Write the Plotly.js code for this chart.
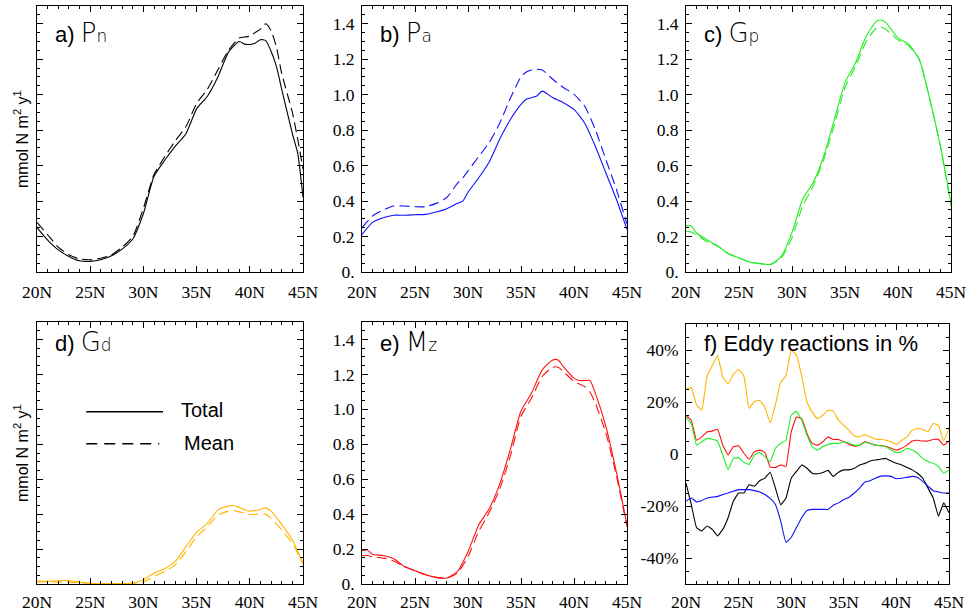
<!DOCTYPE html>
<html><head><meta charset="utf-8">
<script src="https://cdn.plot.ly/plotly-3.0.1.min.js"></script>
<style>html,body{margin:0;padding:0;background:#fff}#chart{width:968px;height:614px}</style>
</head><body><div id="chart"></div>
<script>
// ---- tick labels ----
const latTickVals = [20, 25, 30, 35, 40, 45];
const latTickText = ['20N', '25N', '30N', '35N', '40N', '45N'];
const fluxTickVals = [0, 0.2, 0.4, 0.6, 0.8, 1.0, 1.2, 1.4];
const fluxTickText = ['0.', '0.2', '0.4', '0.6', '0.8', '1.0', '1.2', '1.4'];
const pctTickVals = [-40, -20, 0, 20, 40];
const pctTickText = ['-40%', '-20%', '0', '20%', '40%'];

// ---- a) Pn ----
const latPn = [20,21,22,23,24,25,26,27,28,29,30,31,32,33,34,35,36,37,38,39,39.5,40,40.5,41,41.5,42,42.5,43,44,44.5,45];
const pnTotal = [0.25,0.18,0.125,0.088,0.063,0.06,0.069,0.091,0.129,0.186,0.33,0.54,0.63,0.71,0.78,0.92,0.99,1.10,1.24,1.30,1.285,1.283,1.29,1.31,1.305,1.245,1.16,1.03,0.78,0.67,0.42];
const pnMean  = [0.28,0.21,0.14,0.097,0.073,0.069,0.078,0.097,0.14,0.20,0.36,0.55,0.65,0.74,0.82,0.95,1.03,1.14,1.25,1.32,1.325,1.33,1.35,1.37,1.40,1.36,1.27,1.12,0.90,0.75,0.58];

// ---- b) Pa ----
const latPa = [20,21,22,23,24,25,26,27,28,29,29.5,30,31,32,33,34,35,35.5,36,36.5,37,38,39,40,41,42,43,44,45];
const paTotal = [0.212,0.28,0.306,0.32,0.32,0.323,0.325,0.338,0.357,0.387,0.40,0.45,0.53,0.62,0.75,0.86,0.945,0.974,0.983,0.993,1.02,0.983,0.955,0.917,0.84,0.71,0.56,0.41,0.24];
const paMean  = [0.25,0.316,0.35,0.372,0.372,0.368,0.368,0.387,0.42,0.50,0.53,0.57,0.65,0.73,0.84,0.98,1.10,1.128,1.139,1.143,1.139,1.087,1.04,1.002,0.936,0.805,0.635,0.466,0.27];

// ---- c) Gp ----
const latGp = [20,20.5,21,22,23,24,25,26,27,28,29,30,31,32,33,34,35,36,37,38,38.5,39,40,41,42,43,44,45];
const gpTotal = [0.26,0.26,0.22,0.18,0.147,0.103,0.08,0.056,0.047,0.043,0.09,0.222,0.41,0.504,0.654,0.861,1.068,1.18,1.33,1.415,1.42,1.397,1.32,1.284,1.2,0.974,0.71,0.39];
const gpMean  = [0.23,0.225,0.21,0.17,0.147,0.103,0.08,0.056,0.047,0.043,0.08,0.194,0.372,0.485,0.635,0.833,1.04,1.16,1.30,1.378,1.38,1.36,1.31,1.275,1.2,0.974,0.71,0.37];

// ---- d) Gd ----
const latGd = [20,21,22,23,24,25,26,27,28,29,30,31,32,33,34,35,36,37,38,38.5,39,40,41,41.5,42,43,44,45];
const gdTotal = [0.019,0.015,0.019,0.019,0.011,0.004,0.002,0.002,0.002,0.006,0.025,0.063,0.087,0.129,0.214,0.296,0.347,0.423,0.446,0.449,0.438,0.417,0.427,0.436,0.417,0.341,0.252,0.119];
const gdMean  = [0.011,0.013,0.011,0.011,0.008,0.004,0.003,0.003,0.003,0.004,0.011,0.044,0.072,0.11,0.186,0.27,0.328,0.394,0.417,0.42,0.413,0.398,0.40,0.40,0.375,0.31,0.233,0.114];

// ---- e) Mz ----
const latMz = [20,20.5,21,22,23,24,25,26,27,28,29,30,31,32,33,34,35,36,37,38,38.5,39,40,40.5,41,41.5,42,43,44,45];
const mzTotal = [0.19,0.195,0.17,0.163,0.144,0.10,0.076,0.053,0.038,0.034,0.072,0.185,0.337,0.431,0.573,0.772,0.99,1.094,1.226,1.283,1.283,1.245,1.179,1.165,1.165,1.165,1.094,0.904,0.64,0.337];
const mzMean  = [0.163,0.163,0.157,0.148,0.132,0.10,0.076,0.053,0.038,0.034,0.062,0.157,0.30,0.409,0.545,0.734,0.96,1.065,1.188,1.241,1.241,1.216,1.16,1.145,1.131,1.10,1.037,0.866,0.62,0.327];

// ---- f) Eddy reactions in % ----
const latF = [20,20.5,21,21.5,22,22.5,23,23.5,24,24.5,25,25.5,26,26.5,27,27.5,28,28.5,29,29.5,30,30.5,31,31.5,32,32.5,33,33.5,34,34.5,35,35.5,36,36.5,37,37.5,38,38.5,39,39.5,40,40.5,41,41.5,42,42.5,43,43.5,44,44.5,45];
const eddyGd = [25,25.6,19,16.8,30,34,38,29.5,27,30.7,32.5,30,17.5,20.2,20.6,18,12,19,27.6,30,40,38,30,20,16.1,13.6,14.9,16.8,16.5,13,11,9.1,6.9,6.6,7.5,6.6,5.7,5.6,5.3,4.7,3.7,5.3,6.6,9.1,9.8,9.5,8.5,11.7,11,5,10];
const eddyMz = [14.9,13,5.3,6.6,8.5,8.8,9.5,3.4,-0.4,2.8,3.2,0.3,-2,0.9,1.5,0.6,-5,-5.2,-4.2,-4.8,8.5,14.2,13.6,7.9,4.1,3.4,4.7,6.6,5.6,5.6,4.7,3.7,3,3.4,4.7,4.1,3.4,3.2,3,2.2,1.5,2.2,3.4,5,5.3,5,5,5.6,5.6,3.4,5];
const eddyGp = [14.2,11.7,3.4,4.7,6,5.7,5,-0.4,-6.1,-1.7,-1.4,-3.2,-4,-0.4,0.6,-1,-3,2.2,4.1,5.3,14.9,16.4,13,7.2,2.8,1.5,2.8,3.7,4.1,4.1,4.7,4.1,3.4,3.4,4.4,4.1,3.4,3.2,2.8,1.5,0.6,0.9,2.2,1.5,0.3,-1.7,-2.9,-3.6,-4.8,-7.4,-6.1];
const eddyPn = [-11.2,-19.4,-28.3,-29.6,-27.7,-29,-31.5,-29,-24.5,-18.2,-15,-15,-11.8,-12.4,-10.3,-9.3,-7,-13.1,-19.5,-17,-9.3,-6.7,-4.2,-5.5,-7.4,-7.6,-7.1,-6.3,-8.6,-7,-6.1,-6.1,-5.5,-4.2,-3.6,-2.7,-2.3,-2,-1.7,-2.7,-3.6,-4.2,-5.2,-6.1,-7.4,-9.3,-13.1,-16.9,-23.9,-18.8,-22.6];
const eddyPa = [-18.2,-16.9,-18.4,-17.9,-16.9,-16.6,-16.3,-15.6,-15,-14.3,-13.7,-13.7,-13.7,-14.1,-14.6,-15.6,-17.1,-19.4,-25.8,-34,-32.1,-28.3,-24.5,-21.7,-21.3,-21.3,-21.3,-21.3,-19.7,-18.8,-17.5,-16.6,-15,-13.1,-10.8,-10.3,-9.3,-8.5,-8.4,-8.6,-9.5,-9.3,-9,-8.6,-9,-10.5,-12.4,-14.1,-14.6,-15,-15];

const legendLabels = ['Total', 'Mean'];
const panelLabels = ['a)', 'b)', 'c)', 'd)', 'e)', 'f)'];
const panelSymbols = [['P','n'], ['P','a'], ['G','p'], ['G','d'], ['M','z']];

// ---- colours ----
const cBlack = '#000000', cBlue = '#1010ff', cGreen = '#22ee22', cOrange = '#ffb400', cRed = '#ff1010';

const DASH = '10px,5px';
function pair(x, tot, mean, col, ax) {
  return [
    {x: x, y: tot, xaxis: 'x' + ax, yaxis: 'y' + ax, mode: 'lines', line: {color: col, width: 1.1, shape: 'spline', smoothing: 0.6}, showlegend: false, hoverinfo: 'skip'},
    {x: x, y: mean, xaxis: 'x' + ax, yaxis: 'y' + ax, mode: 'lines', line: {color: col, width: 1.1, dash: DASH, shape: 'spline', smoothing: 0.6}, showlegend: false, hoverinfo: 'skip'}
  ];
}
const data = [].concat(
  pair(latPn, pnTotal, pnMean, cBlack, ''),
  pair(latPa, paTotal, paMean, cBlue, '2'),
  pair(latGp, gpTotal, gpMean, cGreen, '3'),
  pair(latGd, gdTotal, gdMean, cOrange, '4'),
  pair(latMz, mzTotal, mzMean, cRed, '5')
);
[[eddyGd, cOrange], [eddyMz, cRed], [eddyGp, cGreen], [eddyPn, cBlack], [eddyPa, cBlue]].forEach(function (s) {
  data.push({x: latF, y: s[0], xaxis: 'x6', yaxis: 'y6', mode: 'lines', line: {color: s[1], width: 1.1, shape: 'spline', smoothing: 0.3}, showlegend: false, hoverinfo: 'skip'});
});

// ---- layout ----
const W = 968, H = 614;
const colsPx = [[37, 303], [362, 627], [686, 951]];
const rowsPx = [[6, 272], [322, 584]];
const tickFont = {family: 'Liberation Serif, Times New Roman, serif', size: 17.5, color: '#000'};
const suffix = ['', '2', '3', '4', '5', '6'];

function xax(i) {
  const c = i % 3;
  return {anchor: 'y' + suffix[i], domain: [colsPx[c][0] / W, colsPx[c][1] / W], range: [20, 45], showgrid: false, zeroline: false,
    showline: true, linecolor: '#000', linewidth: 1, mirror: 'allticks', ticks: 'inside', ticklen: 6, tickwidth: 1, tickcolor: '#000',
    tickvals: latTickVals, ticktext: latTickText, tickfont: tickFont, ticklabelstandoff: i < 3 ? 4 : 2,
    minor: {ticks: 'inside', ticklen: 3, tickwidth: 1, tickcolor: '#000', dtick: 1, tick0: 20, showgrid: false}};
}
function yax(i, labels, pct) {
  const r = i < 3 ? 0 : 1;
  const o = {anchor: 'x' + suffix[i], domain: [1 - rowsPx[r][1] / H, 1 - rowsPx[r][0] / H], showgrid: false, zeroline: false,
    showline: true, linecolor: '#000', linewidth: 1, mirror: 'allticks', ticks: 'inside', ticklen: 6, tickwidth: 1, tickcolor: '#000',
    tickfont: tickFont, showticklabels: labels, ticklabelstandoff: 3};
  if (pct) {
    o.range = [-50, 50]; o.tickvals = pctTickVals; o.ticktext = pctTickText;
    o.minor = {ticks: 'inside', ticklen: 3, tickwidth: 1, tickcolor: '#000', dtick: 5, tick0: 0, showgrid: false};
  } else {
    o.range = [0, 1.5]; o.tickvals = fluxTickVals; o.ticktext = fluxTickText;
    o.minor = {ticks: 'inside', ticklen: 3, tickwidth: 1, tickcolor: '#000', dtick: 0.05, tick0: 0, showgrid: false};
  }
  return o;
}

const annotations = [];
panelLabels.forEach(function (lab, i) {
  let txt;
  if (i < 5) {
    txt = lab + ' <span style="font-family:DejaVu Sans;font-weight:200;font-size:26px">' + panelSymbols[i][0] +
      '</span><span style="font-family:DejaVu Sans;font-weight:200;font-size:17px">' + panelSymbols[i][1] + '</span>';
  } else {
    txt = lab + ' Eddy reactions in %';
  }
  const row = i < 3 ? 0 : 1;
  annotations.push({xref: 'x' + suffix[i] + ' domain', yref: 'y' + suffix[i] + ' domain', x: 0.06, y: row === 0 ? 0.9 : 0.925,
    xanchor: 'left', yanchor: 'middle', showarrow: false, text: txt,
    font: {family: 'Liberation Sans, Arial, sans-serif', size: 22, color: '#000'}});
});
// y axis titles (panels a and d)
[0, 1].forEach(function (r) {
  annotations.push({xref: 'paper', yref: 'paper', x: 21 / W, y: 1 - (rowsPx[r][0] + rowsPx[r][1]) / 2 / H,
    xanchor: 'center', yanchor: 'middle', textangle: -90, showarrow: false,
    text: 'mmol N m<sup>2</sup> y<sup>1</sup>', font: {family: 'Liberation Sans, Arial, sans-serif', size: 16, color: '#000'}});
});
// legend in panel d
annotations.push({xref: 'x4 domain', yref: 'y4 domain', x: 0.534, y: 0.665, xanchor: 'left', yanchor: 'middle', showarrow: false,
  text: legendLabels[0], font: {family: 'Liberation Sans, Arial, sans-serif', size: 20, color: '#000'}});
annotations.push({xref: 'x4 domain', yref: 'y4 domain', x: 0.545, y: 0.54, xanchor: 'left', yanchor: 'middle', showarrow: false,
  text: legendLabels[1], font: {family: 'Liberation Sans, Arial, sans-serif', size: 20, color: '#000'}});
const shapes = [
  {type: 'line', xref: 'x4 domain', yref: 'y4 domain', x0: 0.185, x1: 0.474, y0: 0.657, y1: 0.657, line: {color: '#000', width: 1.5}},
  {type: 'line', xref: 'x4 domain', yref: 'y4 domain', x0: 0.185, x1: 0.46, y0: 0.535, y1: 0.535, line: {color: '#000', width: 1.5, dash: '11px,7px'}}
];

const layout = {
  width: W, height: H, margin: {l: 0, r: 0, t: 0, b: 0}, paper_bgcolor: '#fff', plot_bgcolor: '#fff', showlegend: false,
  xaxis: xax(0), xaxis2: xax(1), xaxis3: xax(2), xaxis4: xax(3), xaxis5: xax(4), xaxis6: xax(5),
  yaxis: yax(0, false, false), yaxis2: yax(1, true, false), yaxis3: yax(2, true, false),
  yaxis4: yax(3, false, false), yaxis5: yax(4, true, false), yaxis6: yax(5, true, true),
  annotations: annotations, shapes: shapes
};
layout.xaxis6.domain = [686 / W, 949 / W];
layout.yaxis6.domain = [1 - 584 / H, 1 - 324 / H];

Plotly.newPlot('chart', data, layout, {staticPlot: true});
</script></body></html>
